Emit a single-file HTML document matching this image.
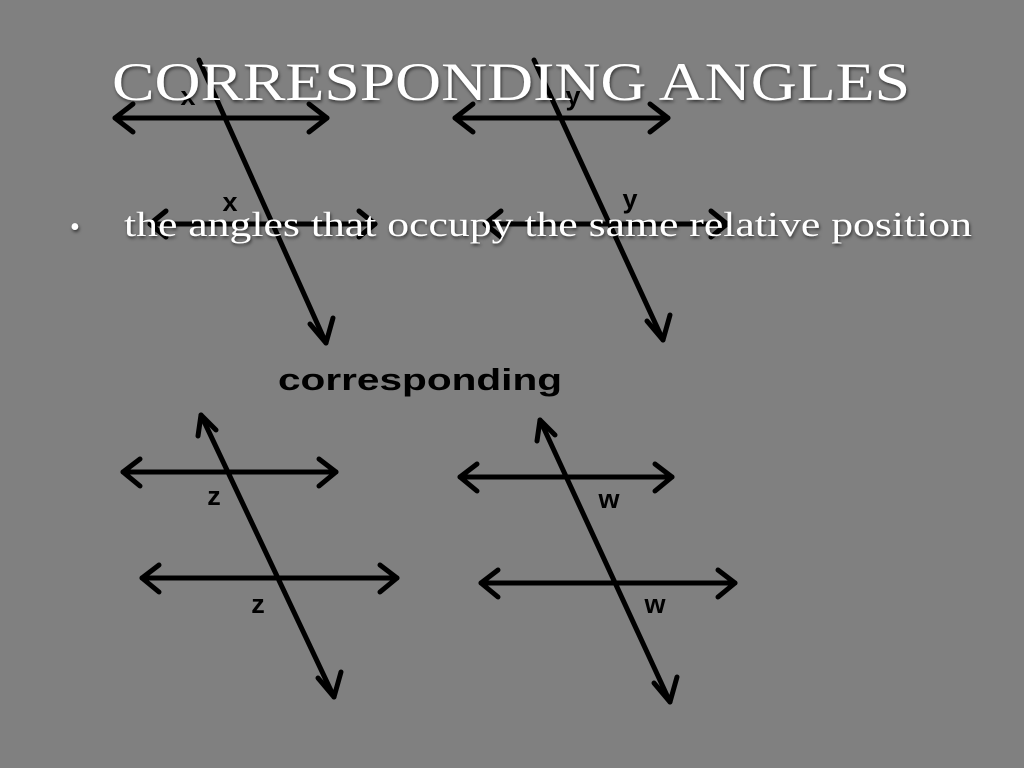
<!DOCTYPE html>
<html><head><meta charset="utf-8"><style>
html,body{margin:0;padding:0;background:#808080;}
svg{display:block}
</style></head><body>
<svg width="1024" height="768" viewBox="0 0 1024 768" xmlns="http://www.w3.org/2000/svg">
<rect width="1024" height="768" fill="#808080"/>
<defs>
<filter id="sh" x="-5%" y="-20%" width="110%" height="140%"><feDropShadow dx="1" dy="2" stdDeviation="1.5" flood-color="#000" flood-opacity="0.6"/></filter>
</defs>
<g stroke="#000" stroke-width="5" fill="none" stroke-linecap="round" stroke-linejoin="round">
<!-- top-left -->
<line x1="115" y1="118" x2="327" y2="118"/><polyline points="133,104 115,118 133,132"/><polyline points="309,104 327,118 309,132"/>
<line x1="150" y1="224" x2="375" y2="224"/><polyline points="166,211 150,224 166,237"/><polyline points="359,211 375,224 359,237"/>
<line x1="199" y1="60" x2="326" y2="343"/><polyline points="310,324 326,343 333,318"/>
<!-- top-right -->
<line x1="455" y1="118" x2="668" y2="118"/><polyline points="473,104 455,118 473,132"/><polyline points="650,104 668,118 650,132"/>
<line x1="485" y1="224" x2="727" y2="224"/><polyline points="501,211 485,224 501,237"/><polyline points="711,211 727,224 711,237"/>
<line x1="534" y1="60" x2="663" y2="340"/><polyline points="647,321 663,340 670,315"/>
<!-- bottom-left -->
<line x1="123" y1="472" x2="336" y2="472"/><polyline points="140,459 123,472 140,486"/><polyline points="319,459 336,472 319,486"/>
<line x1="142" y1="578" x2="397" y2="578"/><polyline points="159,565 142,578 159,592"/><polyline points="380,565 397,578 380,592"/>
<line x1="201" y1="415" x2="334" y2="697"/><polyline points="198,436 201,415 216,430"/><polyline points="318,678 334,697 341,672"/>
<!-- bottom-right -->
<line x1="460" y1="477" x2="672" y2="477"/><polyline points="477,464 460,477 477,491"/><polyline points="655,464 672,477 655,491"/>
<line x1="481" y1="583" x2="735" y2="583"/><polyline points="498,570 481,583 498,597"/><polyline points="718,570 735,583 718,597"/>
<line x1="540" y1="420" x2="670" y2="702"/><polyline points="537,441 540,420 555,435"/><polyline points="654,683 670,702 677,677"/>
</g>
<g font-family="Liberation Sans, sans-serif" font-weight="bold" font-size="27" fill="#000" text-anchor="middle">
<text x="188" y="105">x</text><text x="230" y="211">x</text>
<text x="573" y="105">y</text><text x="630" y="208">y</text>
<text x="214" y="505">z</text><text x="258" y="613">z</text>
<text x="609" y="508">w</text><text x="655" y="613">w</text>
</g>
<text x="278" y="390" font-family="Liberation Sans, sans-serif" font-weight="bold" font-size="31" fill="#000" textLength="284" lengthAdjust="spacingAndGlyphs">corresponding</text>
<g filter="url(#sh)" fill="#fff" font-family="Liberation Serif, serif">
<text x="112" y="100" font-size="54" textLength="798" lengthAdjust="spacingAndGlyphs">CORRESPONDING ANGLES</text>
<text x="70" y="236" font-size="28">•</text>
<text x="124" y="236" font-size="35" textLength="848" lengthAdjust="spacingAndGlyphs">the angles that occupy the same relative position</text>
</g>
</svg>
</body></html>
